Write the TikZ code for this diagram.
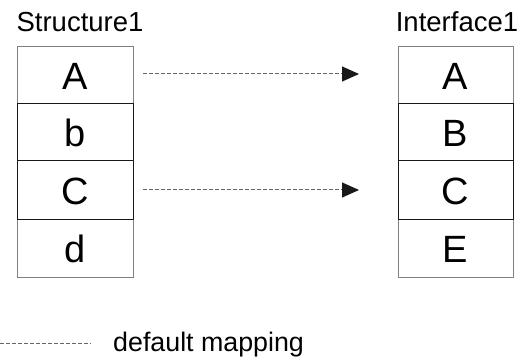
\documentclass[tikz,border=0pt]{standalone}
\usepackage{fontspec}
\setmainfont{Liberation Sans}
\usetikzlibrary{arrows.meta}
\begin{document}
\begin{tikzpicture}[x=1pt,y=-1pt,
  cellgray/.style={draw=black!50,line width=1pt},
  cellblack/.style={draw=black!90,line width=1pt},
  celltext/.style={font=\fontsize{38}{42}\selectfont,anchor=base,inner sep=0pt},
  titletext/.style={font=\fontsize{27.5}{30}\selectfont,anchor=base,inner sep=0pt},
  legtext/.style={font=\fontsize{26.8}{30}\selectfont,anchor=base west,inner sep=0pt},
  maparrow/.style={draw=black!60,line width=1pt,dash pattern=on 4pt off 2pt,
    -{Triangle[length=17pt,width=15pt,fill=black!90,color=black!90]}},
  legline/.style={draw=black!60,line width=1pt,dash pattern=on 4pt off 2pt}]
\useasboundingbox (0,0) rectangle (522,363);
% left structure
\draw[cellgray] (17,47) rectangle (133,104);
\draw[cellgray] (17,220) rectangle (133,278);
\draw[cellblack] (17,104) rectangle (133,161);
\draw[cellblack] (17,161) rectangle (133,220);
% right interface
\draw[cellgray] (398,47) rectangle (513,104);
\draw[cellgray] (398,220) rectangle (513,278);
\draw[cellblack] (398,104) rectangle (513,161);
\draw[cellblack] (398,161) rectangle (513,220);
% titles
\node[titletext] (t1) at (80,32) {Structure1};
\node[titletext] (t2) at (457,32) {Interface1};
% cells
\node[celltext] (la) at (75,89.5) {A};
\node[celltext] (lb) at (75,146.5) {b};
\node[celltext] (lc) at (75,204.5) {C};
\node[celltext] (ld) at (75,262.5) {d};
\node[celltext] (ra) at (455.5,89.5) {A};
\node[celltext] (rb) at (455.5,146.5) {B};
\node[celltext] (rc) at (455.5,204.5) {C};
\node[celltext] (re) at (455.5,262.5) {E};
% arrows
\coordinate (a1) at (143,74);
\coordinate (a2) at (359,74);
\coordinate (c1) at (143,190);
\coordinate (c2) at (359,190);
\draw[maparrow] (a1) -- (a2);
\draw[maparrow] (c1) -- (c2);
% legend
\coordinate (l1) at (0,343);
\coordinate (l2) at (91,343);
\draw[legline] (l1) -- (l2);
\node[legtext] (leg) at (113,352) {default mapping};
\end{tikzpicture}
\end{document}
